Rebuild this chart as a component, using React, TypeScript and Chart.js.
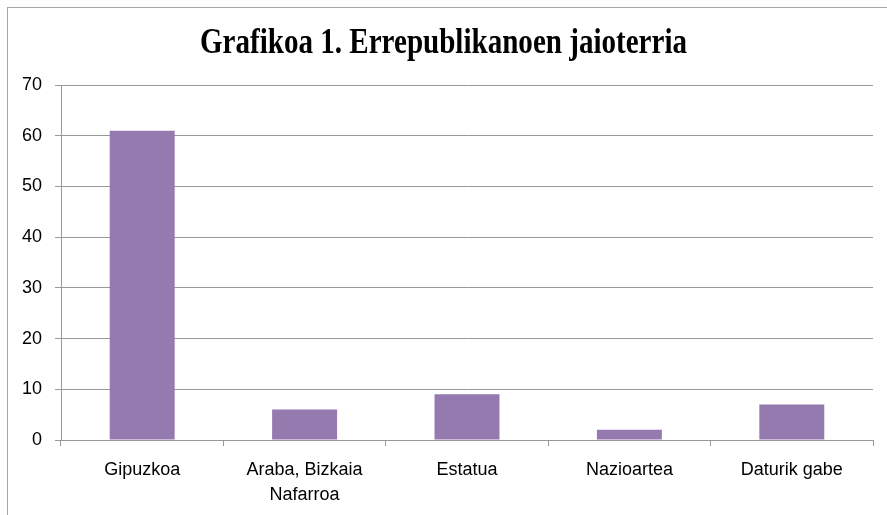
import React, { useEffect, useRef } from "react";
import { Chart, registerables } from "chart.js";

Chart.register(...registerables);

const TITLE = "Grafikoa 1. Errepublikanoen jaioterria";
const categories: (string | string[])[] = [
  "Gipuzkoa",
  ["Araba, Bizkaia", "Nafarroa"],
  "Estatua",
  "Nazioartea",
  "Daturik gabe",
];
const values = [61, 6, 9, 2, 7];
const yMin = 0;
const yMax = 70;
const yStep = 10;

const framePlugin = {
  id: "framePlugin",
  beforeDraw(chart: any) {
    const ctx = chart.ctx;
    ctx.save();
    ctx.fillStyle = "#ffffff";
    ctx.fillRect(0, 0, chart.width, chart.height);
    ctx.strokeStyle = "#a6a6a6";
    ctx.lineWidth = 1;
    ctx.strokeRect(7.5, 7.5, chart.width + 20, chart.height + 20);
    ctx.fillStyle = "#000000";
    ctx.font = "bold 36px 'Liberation Serif', 'Times New Roman', serif";
    ctx.textAlign = "center";
    ctx.textBaseline = "alphabetic";
    const w = ctx.measureText(TITLE).width;
    const target = 487;
    const sx = target / w;
    ctx.translate(443.5, 53);
    ctx.scale(sx, 1);
    ctx.fillText(TITLE, 0, 0);
    ctx.restore();
  },
};

export default function App() {
  const ref = useRef<HTMLCanvasElement>(null);
  useEffect(() => {
    if (!ref.current) return;
    const chart = new Chart(ref.current, {
      type: "bar",
      data: {
        labels: categories,
        datasets: [
          {
            data: values,
            backgroundColor: "#957AB0",
            barPercentage: 0.4,
            categoryPercentage: 1,
          },
        ],
      },
      options: {
        animation: false,
        responsive: false,
        devicePixelRatio: 1,
        layout: { padding: { top: 85, left: 8, right: 14, bottom: 0 } },
        plugins: {
          legend: { display: false },
          title: { display: false },
          tooltip: { enabled: false },
        },
        scales: {
          x: {
            grid: {
              drawOnChartArea: false,
              drawTicks: true,
              tickLength: 6,
              color: "#999999",
              offset: true,
            },
            border: { color: "#999999", width: 1 },
            ticks: {
              color: "#000000",
              padding: 11,
              maxRotation: 0,
              autoSkip: false,
              font: { family: "'Liberation Sans', Arial, sans-serif", size: 18, lineHeight: 1.4 },
            },
            afterFit(scale: any) {
              scale.height = 75;
            },
          },
          y: {
            min: yMin,
            max: yMax,
            grid: { color: "#999999", tickLength: 6, lineWidth: 1 },
            border: { color: "#999999", width: 1 },
            ticks: {
              stepSize: yStep,
              color: "#000000",
              padding: 13,
              font: { family: "'Liberation Sans', Arial, sans-serif", size: 18 },
            },
            afterFit(scale: any) {
              scale.width = 53;
            },
          },
        },
      },
      plugins: [framePlugin],
    });
    return () => chart.destroy();
  }, []);
  return (
    <div style={{ position: "fixed", left: 0, top: 0, width: 887, height: 515 }}>
      <canvas ref={ref} width={887} height={515} style={{ width: 887, height: 515 }} />
    </div>
  );
}
